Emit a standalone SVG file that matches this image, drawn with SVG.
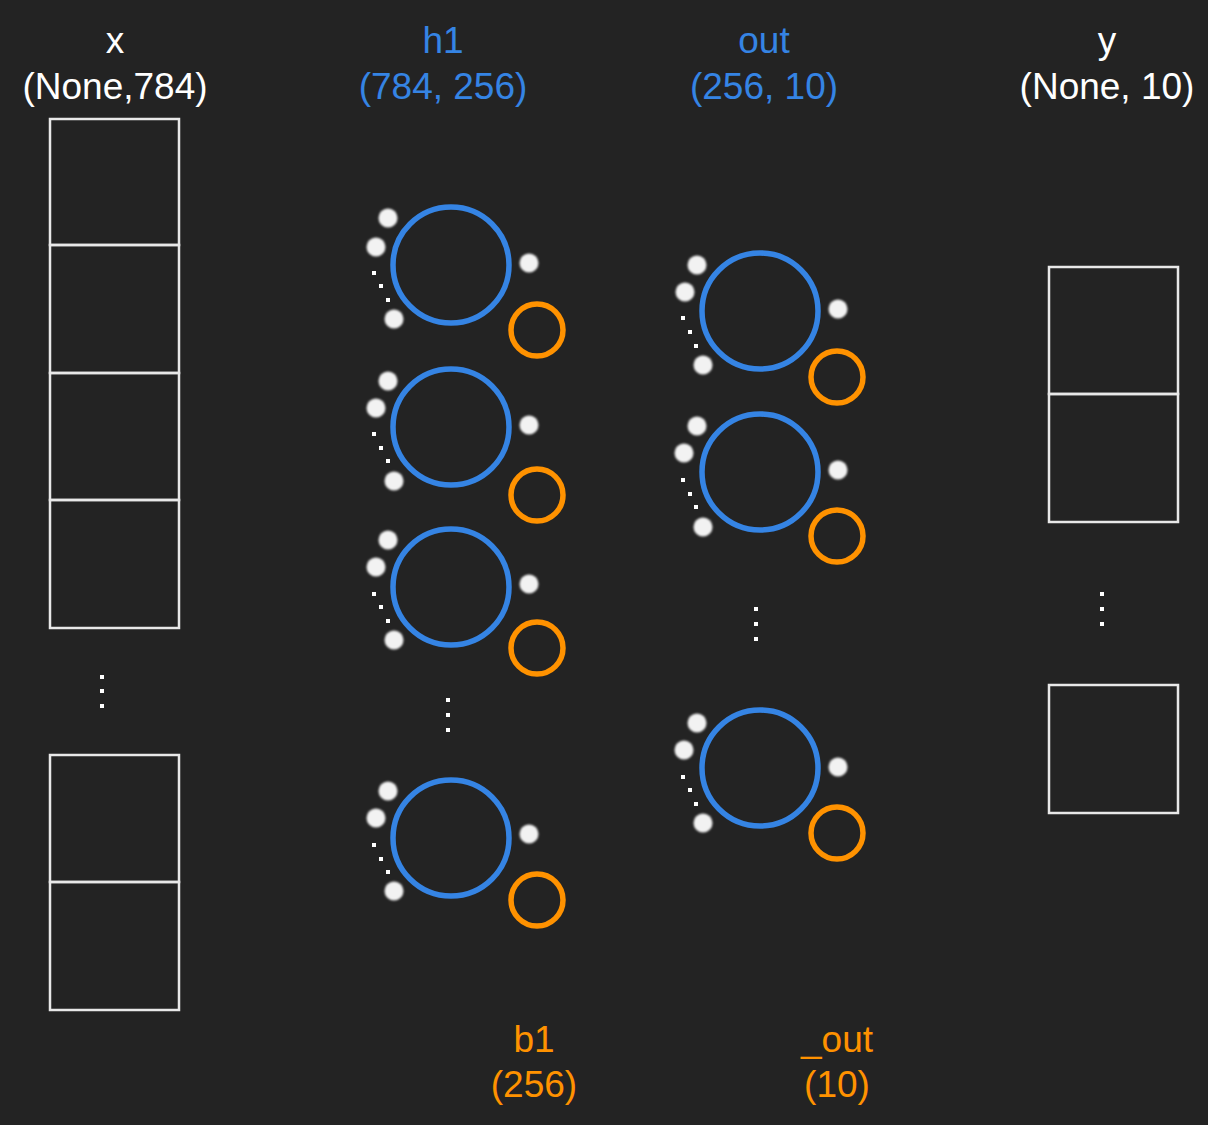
<svg xmlns="http://www.w3.org/2000/svg" width="1208" height="1125" viewBox="0 0 1208 1125">
<defs>
<style>
.lbl{font-family:"Liberation Sans",Arial,sans-serif;font-size:37px;text-anchor:middle}
.wt{fill:#ffffff}
.bt{fill:#3584e4}
.ot{fill:#ff9200}
.box{fill:none;stroke:#e8e8e8;stroke-width:2.5}
.big{fill:none;stroke:#3584e4;stroke-width:5.5}
.bias{fill:none;stroke:#ff9200;stroke-width:5.5}
.in{fill:#f2f2f2;filter:url(#soft)}
.sq{fill:#ffffff}
</style>
<filter id="soft" x="-50%" y="-50%" width="200%" height="200%"><feGaussianBlur stdDeviation="0.9"/></filter>
</defs>
<rect x="0" y="0" width="1208" height="1125" fill="#232323"/>

<g id="labels">
<text class="lbl wt" x="115" y="53">x</text>
<text class="lbl wt" x="115" y="99">(None,784)</text>
<text class="lbl bt" x="443" y="53">h1</text>
<text class="lbl bt" x="443" y="99">(784, 256)</text>
<text class="lbl bt" x="764" y="53">out</text>
<text class="lbl bt" x="764" y="99">(256, 10)</text>
<text class="lbl wt" x="1107" y="53">y</text>
<text class="lbl wt" x="1107" y="99">(None, 10)</text>
<text class="lbl ot" x="534" y="1052">b1</text>
<text class="lbl ot" x="534" y="1097">(256)</text>
<text class="lbl ot" x="837" y="1052">_out</text>
<text class="lbl ot" x="837" y="1097">(10)</text>
</g>

<g id="x-column">
<rect class="box" x="50" y="119" width="129" height="126"/>
<rect class="box" x="50" y="245" width="129" height="128"/>
<rect class="box" x="50" y="373" width="129" height="127"/>
<rect class="box" x="50" y="500" width="129" height="128"/>
<rect class="sq" x="100" y="675" width="4" height="4"/>
<rect class="sq" x="100" y="689" width="4" height="4"/>
<rect class="sq" x="100" y="704" width="4" height="4"/>
<rect class="box" x="50" y="755" width="129" height="127"/>
<rect class="box" x="50" y="882" width="129" height="128"/>
</g>

<g id="y-column">
<rect class="box" x="1049" y="267" width="129" height="127"/>
<rect class="box" x="1049" y="394" width="129" height="128"/>
<rect class="sq" x="1100" y="592" width="4" height="4"/>
<rect class="sq" x="1100" y="607" width="4" height="4"/>
<rect class="sq" x="1100" y="622" width="4" height="4"/>
<rect class="box" x="1049" y="685" width="129" height="128"/>
</g>

<g id="h1-n1" transform="translate(451,265)">
<circle class="big" cx="0" cy="0" r="58"/>
<circle class="in" cx="-63" cy="-47" r="9.5"/>
<circle class="in" cx="-75" cy="-18" r="9.5"/>
<circle class="in" cx="-57" cy="54" r="9.5"/>
<rect class="sq" x="-79" y="6" width="4" height="4"/>
<rect class="sq" x="-72" y="19" width="4" height="4"/>
<rect class="sq" x="-65" y="33" width="4" height="4"/>
<circle class="in" cx="78" cy="-2" r="9.5"/>
<circle class="bias" cx="86" cy="65" r="26"/>
</g>
<g id="h1-n2" transform="translate(451,427)">
<circle class="big" cx="0" cy="0" r="58"/>
<circle class="in" cx="-63" cy="-46" r="9.5"/>
<circle class="in" cx="-75" cy="-19" r="9.5"/>
<circle class="in" cx="-57" cy="54" r="9.5"/>
<rect class="sq" x="-79" y="5" width="4" height="4"/>
<rect class="sq" x="-72" y="19" width="4" height="4"/>
<rect class="sq" x="-65" y="32" width="4" height="4"/>
<circle class="in" cx="78" cy="-2" r="9.5"/>
<circle class="bias" cx="86" cy="68" r="26"/>
</g>
<g id="h1-n3" transform="translate(451,587)">
<circle class="big" cx="0" cy="0" r="58"/>
<circle class="in" cx="-63" cy="-47" r="9.5"/>
<circle class="in" cx="-75" cy="-20" r="9.5"/>
<circle class="in" cx="-57" cy="53" r="9.5"/>
<rect class="sq" x="-79" y="5" width="4" height="4"/>
<rect class="sq" x="-72" y="18" width="4" height="4"/>
<rect class="sq" x="-65" y="32" width="4" height="4"/>
<circle class="in" cx="78" cy="-3" r="9.5"/>
<circle class="bias" cx="86" cy="61" r="26"/>
</g>
<g id="h1-ellipsis">
<rect class="sq" x="446" y="698" width="4" height="4"/>
<rect class="sq" x="446" y="713" width="4" height="4"/>
<rect class="sq" x="446" y="728" width="4" height="4"/>
</g>
<g id="h1-n4" transform="translate(451,838)">
<circle class="big" cx="0" cy="0" r="58"/>
<circle class="in" cx="-63" cy="-47" r="9.5"/>
<circle class="in" cx="-75" cy="-20" r="9.5"/>
<circle class="in" cx="-57" cy="53" r="9.5"/>
<rect class="sq" x="-79" y="5" width="4" height="4"/>
<rect class="sq" x="-72" y="19" width="4" height="4"/>
<rect class="sq" x="-65" y="32" width="4" height="4"/>
<circle class="in" cx="78" cy="-4" r="9.5"/>
<circle class="bias" cx="86" cy="62" r="26"/>
</g>

<g id="out-n1" transform="translate(760,311)">
<circle class="big" cx="0" cy="0" r="58"/>
<circle class="in" cx="-63" cy="-46" r="9.5"/>
<circle class="in" cx="-75" cy="-19" r="9.5"/>
<circle class="in" cx="-57" cy="54" r="9.5"/>
<rect class="sq" x="-79" y="5" width="4" height="4"/>
<rect class="sq" x="-72" y="19" width="4" height="4"/>
<rect class="sq" x="-66" y="33" width="4" height="4"/>
<circle class="in" cx="78" cy="-2" r="9.5"/>
<circle class="bias" cx="77" cy="66" r="26"/>
</g>
<g id="out-n2" transform="translate(760,472)">
<circle class="big" cx="0" cy="0" r="58"/>
<circle class="in" cx="-63" cy="-46" r="9.5"/>
<circle class="in" cx="-76" cy="-19" r="9.5"/>
<circle class="in" cx="-57" cy="55" r="9.5"/>
<rect class="sq" x="-79" y="6" width="4" height="4"/>
<rect class="sq" x="-72" y="20" width="4" height="4"/>
<rect class="sq" x="-66" y="33" width="4" height="4"/>
<circle class="in" cx="78" cy="-2" r="9.5"/>
<circle class="bias" cx="77" cy="64" r="26"/>
</g>
<g id="out-ellipsis">
<rect class="sq" x="754" y="607" width="4" height="4"/>
<rect class="sq" x="754" y="622" width="4" height="4"/>
<rect class="sq" x="754" y="637" width="4" height="4"/>
</g>
<g id="out-n3" transform="translate(760,768)">
<circle class="big" cx="0" cy="0" r="58"/>
<circle class="in" cx="-63" cy="-45" r="9.5"/>
<circle class="in" cx="-76" cy="-18" r="9.5"/>
<circle class="in" cx="-57" cy="55" r="9.5"/>
<rect class="sq" x="-79" y="7" width="4" height="4"/>
<rect class="sq" x="-72" y="20" width="4" height="4"/>
<rect class="sq" x="-66" y="34" width="4" height="4"/>
<circle class="in" cx="78" cy="-1" r="9.5"/>
<circle class="bias" cx="77" cy="65" r="26"/>
</g>

<g id="connectors"></g>
</svg>
